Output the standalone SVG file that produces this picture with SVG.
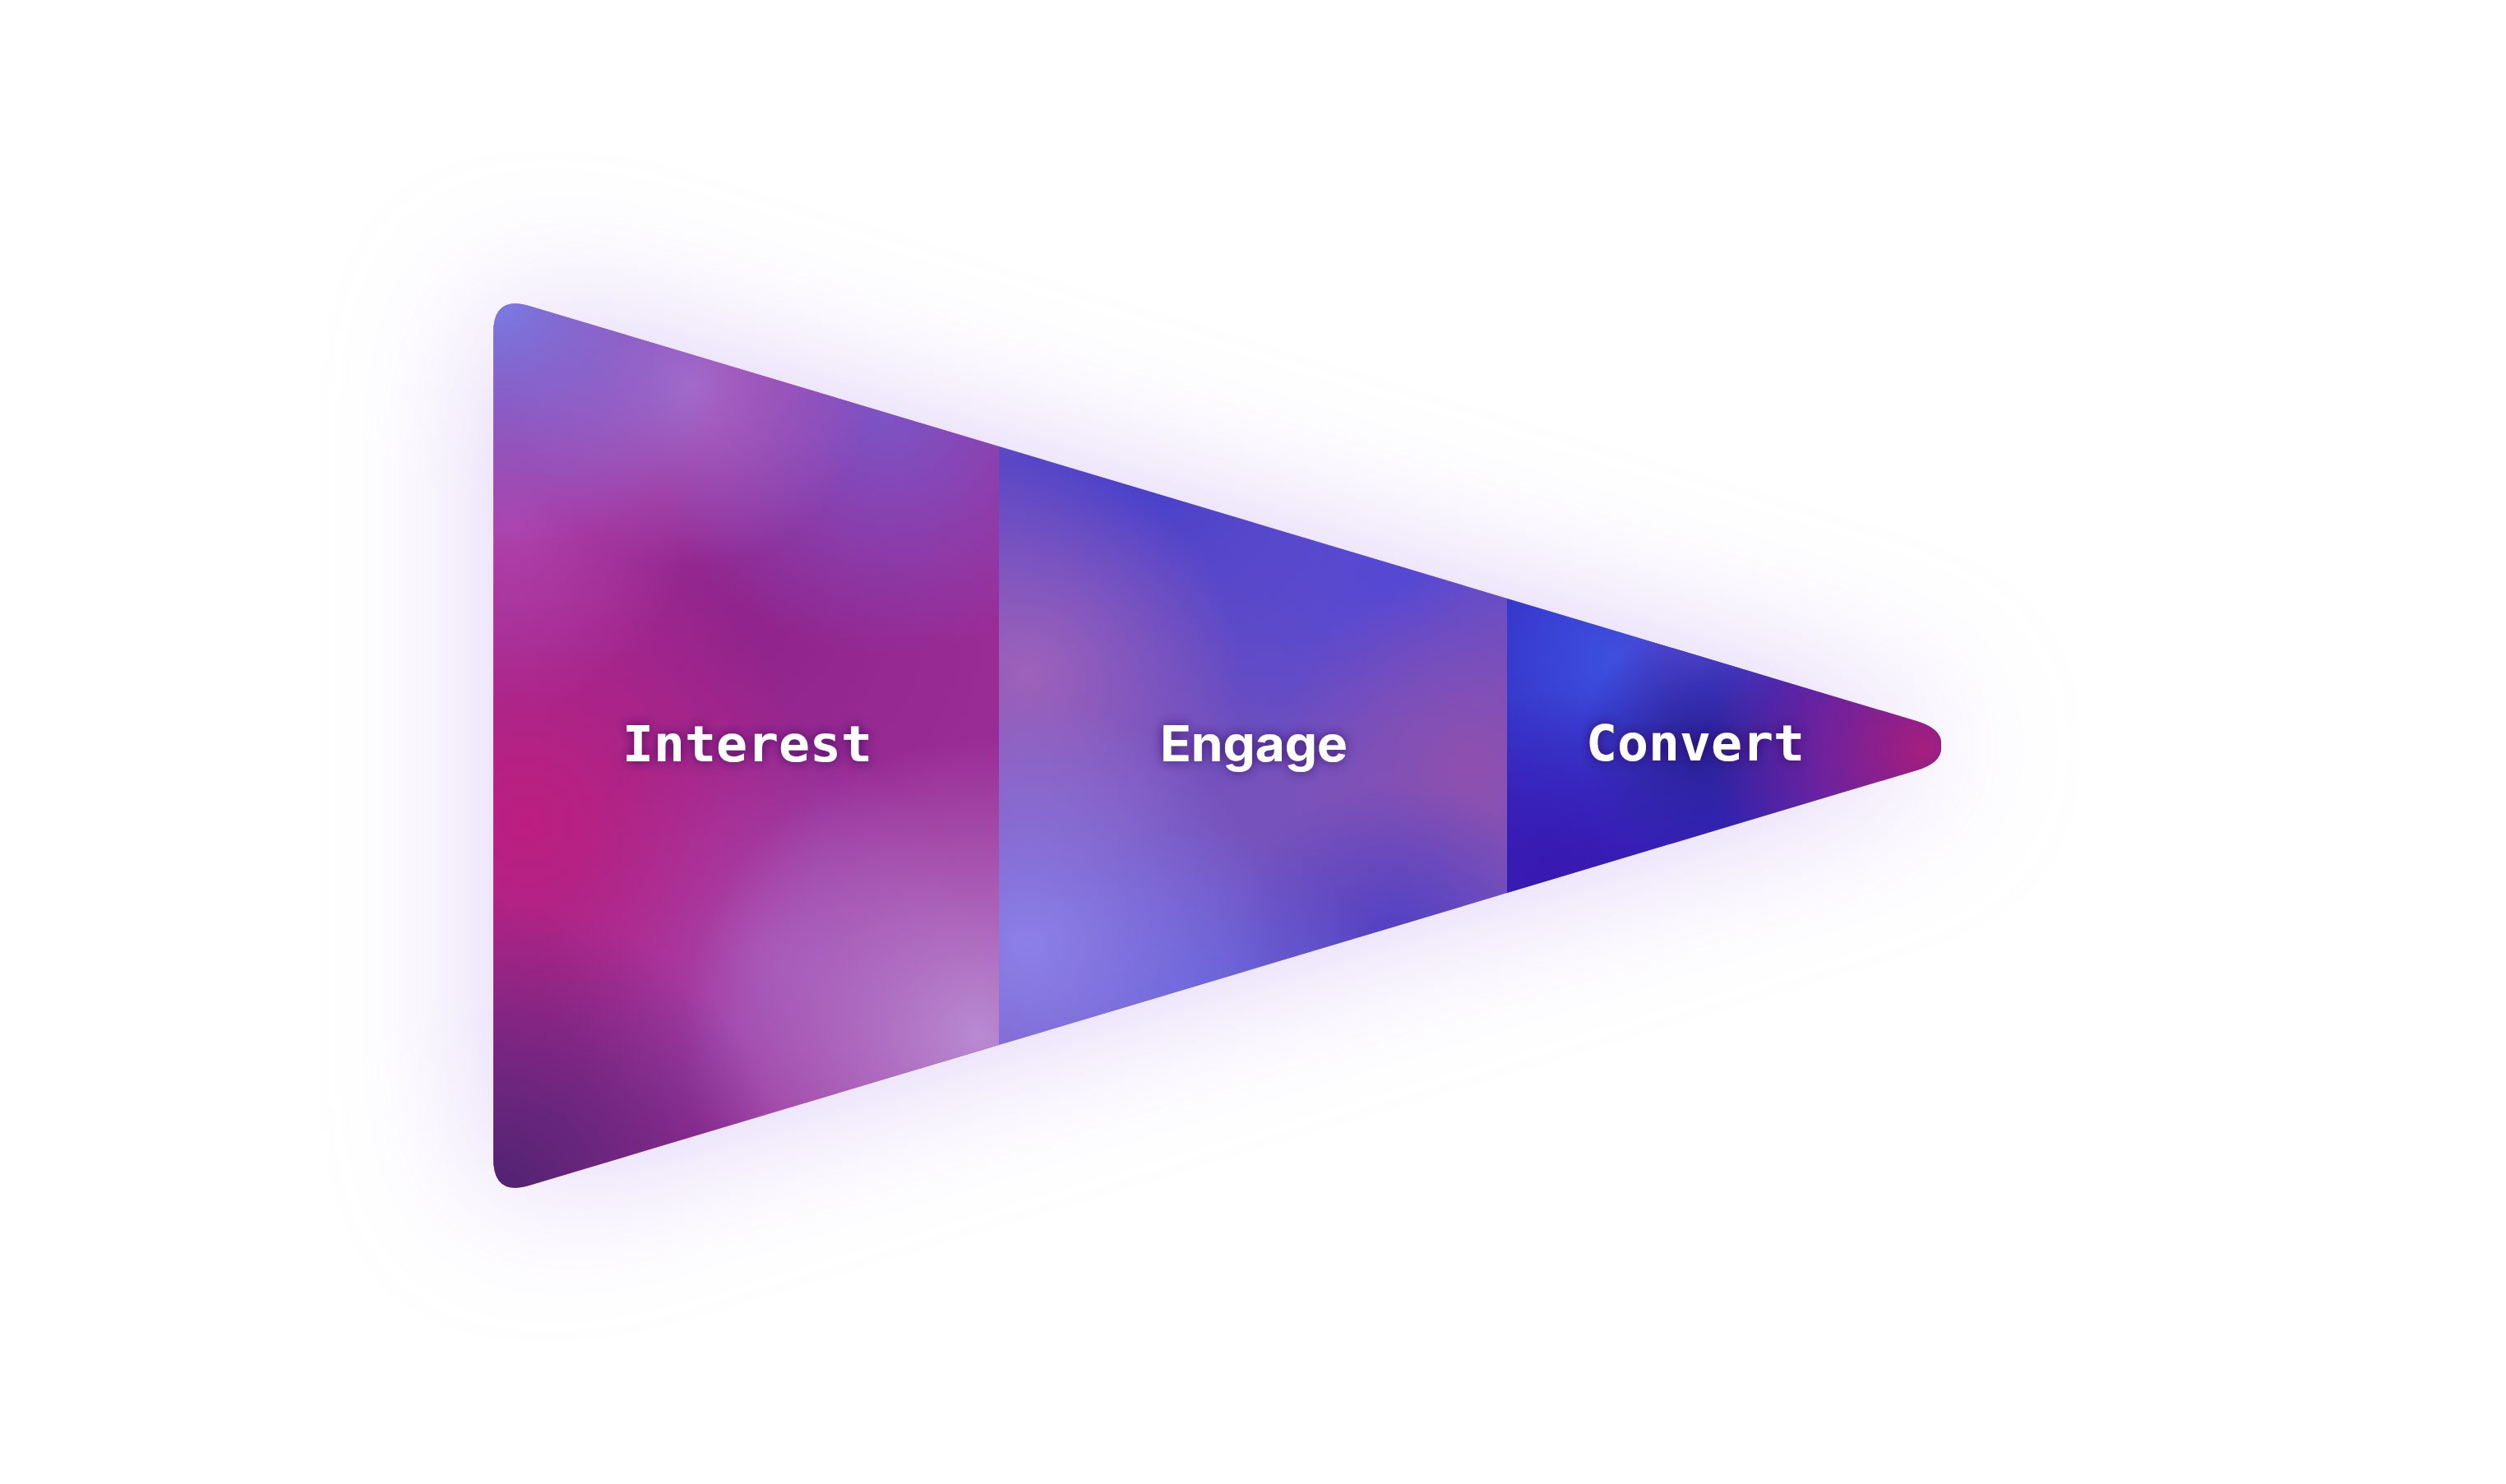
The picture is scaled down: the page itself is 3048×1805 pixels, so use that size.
<svg xmlns="http://www.w3.org/2000/svg" width="3048" height="1805" viewBox="0 0 3048 1805">
<defs>
<style>
.lbl{fill:#ffffff;font-weight:700;font-size:60px;filter:url(#tshadow)}
.mono{font-family:"DejaVu Sans Mono","Liberation Mono",monospace}
.sans{font-family:Inter,"Noto Sans","DejaVu Sans",sans-serif}
</style>
<path id="funnel" d="M 600 405 Q 600 359 644 372.2 L 2331 877 Q 2361 886 2361 904 L 2361 910 Q 2361 928 2331 937 L 644 1441.8 Q 600 1455 600 1409 Z"/>
<clipPath id="clipF"><use href="#funnel"/></clipPath>
<filter id="glow" filterUnits="userSpaceOnUse" x="0" y="0" width="3048" height="1805">
<feGaussianBlur stdDeviation="95"/>
</filter>
<filter id="tshadow" x="-20%" y="-60%" width="140%" height="220%">
<feGaussianBlur in="SourceAlpha" stdDeviation="7" result="b"/>
<feFlood flood-color="#2e0f5a" flood-opacity="0.75"/>
<feComposite in2="b" operator="in" result="s"/>
<feMerge><feMergeNode in="s"/><feMergeNode in="SourceGraphic"/></feMerge>
</filter>
<radialGradient id="a1" gradientUnits="userSpaceOnUse" cx="640" cy="1000" r="360"><stop offset="0" stop-color="#bc1e7e"/><stop offset="1" stop-color="#bc1e7e" stop-opacity="0"/></radialGradient>
<radialGradient id="a2" gradientUnits="userSpaceOnUse" cx="610" cy="370" r="300"><stop offset="0" stop-color="#7a7ae2"/><stop offset="1" stop-color="#7a7ae2" stop-opacity="0"/></radialGradient>
<radialGradient id="a3" gradientUnits="userSpaceOnUse" cx="840" cy="470" r="220"><stop offset="0" stop-color="#a866c6"/><stop offset="1" stop-color="#a866c6" stop-opacity="0"/></radialGradient>
<radialGradient id="a4" gradientUnits="userSpaceOnUse" cx="1080" cy="500" r="300"><stop offset="0" stop-color="#7c54c6"/><stop offset="1" stop-color="#7c54c6" stop-opacity="0"/></radialGradient>
<radialGradient id="a5" gradientUnits="userSpaceOnUse" cx="920" cy="760" r="300"><stop offset="0" stop-color="#90248c"/><stop offset="1" stop-color="#90248c" stop-opacity="0"/></radialGradient>
<radialGradient id="a6" gradientUnits="userSpaceOnUse" cx="1190" cy="1260" r="360"><stop offset="0" stop-color="#b88ad2"/><stop offset="1" stop-color="#b88ad2" stop-opacity="0"/></radialGradient>
<radialGradient id="a7" gradientUnits="userSpaceOnUse" cx="600" cy="1460" r="360"><stop offset="0" stop-color="#4e2270"/><stop offset="1" stop-color="#4e2270" stop-opacity="0"/></radialGradient>
<radialGradient id="a8" gradientUnits="userSpaceOnUse" cx="620" cy="640" r="220"><stop offset="0" stop-color="#b040aa"/><stop offset="1" stop-color="#b040aa" stop-opacity="0"/></radialGradient>
<radialGradient id="a9" gradientUnits="userSpaceOnUse" cx="920" cy="1150" r="260"><stop offset="0" stop-color="#a24eb6"/><stop offset="1" stop-color="#a24eb6" stop-opacity="0"/></radialGradient>
<radialGradient id="b1" gradientUnits="userSpaceOnUse" cx="1400" cy="560" r="420"><stop offset="0" stop-color="#4640cc"/><stop offset="1" stop-color="#4640cc" stop-opacity="0"/></radialGradient>
<radialGradient id="b2" gradientUnits="userSpaceOnUse" cx="1700" cy="700" r="280"><stop offset="0" stop-color="#5448d4"/><stop offset="1" stop-color="#5448d4" stop-opacity="0"/></radialGradient>
<radialGradient id="b3" gradientUnits="userSpaceOnUse" cx="1250" cy="820" r="260"><stop offset="0" stop-color="#9e62ba"/><stop offset="1" stop-color="#9e62ba" stop-opacity="0"/></radialGradient>
<radialGradient id="b4" gradientUnits="userSpaceOnUse" cx="1250" cy="1150" r="300"><stop offset="0" stop-color="#8c80e8"/><stop offset="1" stop-color="#8c80e8" stop-opacity="0"/></radialGradient>
<radialGradient id="b5" gradientUnits="userSpaceOnUse" cx="1460" cy="1250" r="240"><stop offset="0" stop-color="#5e62e0"/><stop offset="1" stop-color="#5e62e0" stop-opacity="0"/></radialGradient>
<radialGradient id="b6" gradientUnits="userSpaceOnUse" cx="1790" cy="930" r="240"><stop offset="0" stop-color="#8e50ae"/><stop offset="1" stop-color="#8e50ae" stop-opacity="0"/></radialGradient>
<radialGradient id="b7" gradientUnits="userSpaceOnUse" cx="1700" cy="1150" r="200"><stop offset="0" stop-color="#5040c4"/><stop offset="1" stop-color="#5040c4" stop-opacity="0"/></radialGradient>
<radialGradient id="c1" gradientUnits="userSpaceOnUse" cx="1960" cy="800" r="240"><stop offset="0" stop-color="#3c50e0"/><stop offset="1" stop-color="#3c50e0" stop-opacity="0"/></radialGradient>
<radialGradient id="c2" gradientUnits="userSpaceOnUse" cx="1900" cy="1080" r="240"><stop offset="0" stop-color="#3818b0"/><stop offset="1" stop-color="#3818b0" stop-opacity="0"/></radialGradient>
<radialGradient id="c3" gradientUnits="userSpaceOnUse" cx="2340" cy="910" r="260"><stop offset="0" stop-color="#a41e7e"/><stop offset="1" stop-color="#a41e7e" stop-opacity="0"/></radialGradient>
<radialGradient id="c4" gradientUnits="userSpaceOnUse" cx="2070" cy="910" r="150"><stop offset="0" stop-color="#2a2096"/><stop offset="1" stop-color="#2a2096" stop-opacity="0"/></radialGradient>
<radialGradient id="c5" gradientUnits="userSpaceOnUse" cx="2060" cy="790" r="110"><stop offset="0" stop-color="#5448d2"/><stop offset="1" stop-color="#5448d2" stop-opacity="0"/></radialGradient>
</defs>
<rect width="3048" height="1805" fill="#ffffff"/>
<use href="#funnel" fill="#c8acf2" opacity="0.6" filter="url(#glow)"/>
<g clip-path="url(#clipF)">
<g id="interest-bg">
<rect x="600" y="350" width="615" height="1110" fill="#9a2c96"/>
<rect x="600" y="350" width="615" height="1110" fill="url(#a5)"/>
<rect x="600" y="350" width="615" height="1110" fill="url(#a9)"/>
<rect x="600" y="350" width="615" height="1110" fill="url(#a1)"/>
<rect x="600" y="350" width="615" height="1110" fill="url(#a8)"/>
<rect x="600" y="350" width="615" height="1110" fill="url(#a4)"/>
<rect x="600" y="350" width="615" height="1110" fill="url(#a3)"/>
<rect x="600" y="350" width="615" height="1110" fill="url(#a2)"/>
<rect x="600" y="350" width="615" height="1110" fill="url(#a6)"/>
<rect x="600" y="350" width="615" height="1110" fill="url(#a7)"/>
</g>
<g id="engage-bg">
<rect x="1215" y="350" width="618" height="1110" fill="#7652bc"/>
<rect x="1215" y="350" width="618" height="1110" fill="url(#b1)"/>
<rect x="1215" y="350" width="618" height="1110" fill="url(#b2)"/>
<rect x="1215" y="350" width="618" height="1110" fill="url(#b3)"/>
<rect x="1215" y="350" width="618" height="1110" fill="url(#b6)"/>
<rect x="1215" y="350" width="618" height="1110" fill="url(#b7)"/>
<rect x="1215" y="350" width="618" height="1110" fill="url(#b5)"/>
<rect x="1215" y="350" width="618" height="1110" fill="url(#b4)"/>
</g>
<g id="convert-bg">
<rect x="1833" y="350" width="540" height="1110" fill="#3526be"/>
<rect x="1833" y="350" width="540" height="1110" fill="url(#c1)"/>
<rect x="1833" y="350" width="540" height="1110" fill="url(#c5)"/>
<rect x="1833" y="350" width="540" height="1110" fill="url(#c2)"/>
<rect x="1833" y="350" width="540" height="1110" fill="url(#c4)"/>
<rect x="1833" y="350" width="540" height="1110" fill="url(#c3)"/>
</g>
</g>
<g id="node-interest"><text class="lbl mono" x="757" y="926" textLength="304" lengthAdjust="spacingAndGlyphs">Interest</text></g>
<g id="node-engage"><text class="lbl sans" x="1411" y="926" textLength="228" lengthAdjust="spacingAndGlyphs">Engage</text></g>
<g id="node-convert"><text class="lbl mono" x="1929" y="925" textLength="266" lengthAdjust="spacingAndGlyphs">Convert</text></g>
<g id="connectors"/>
</svg>
